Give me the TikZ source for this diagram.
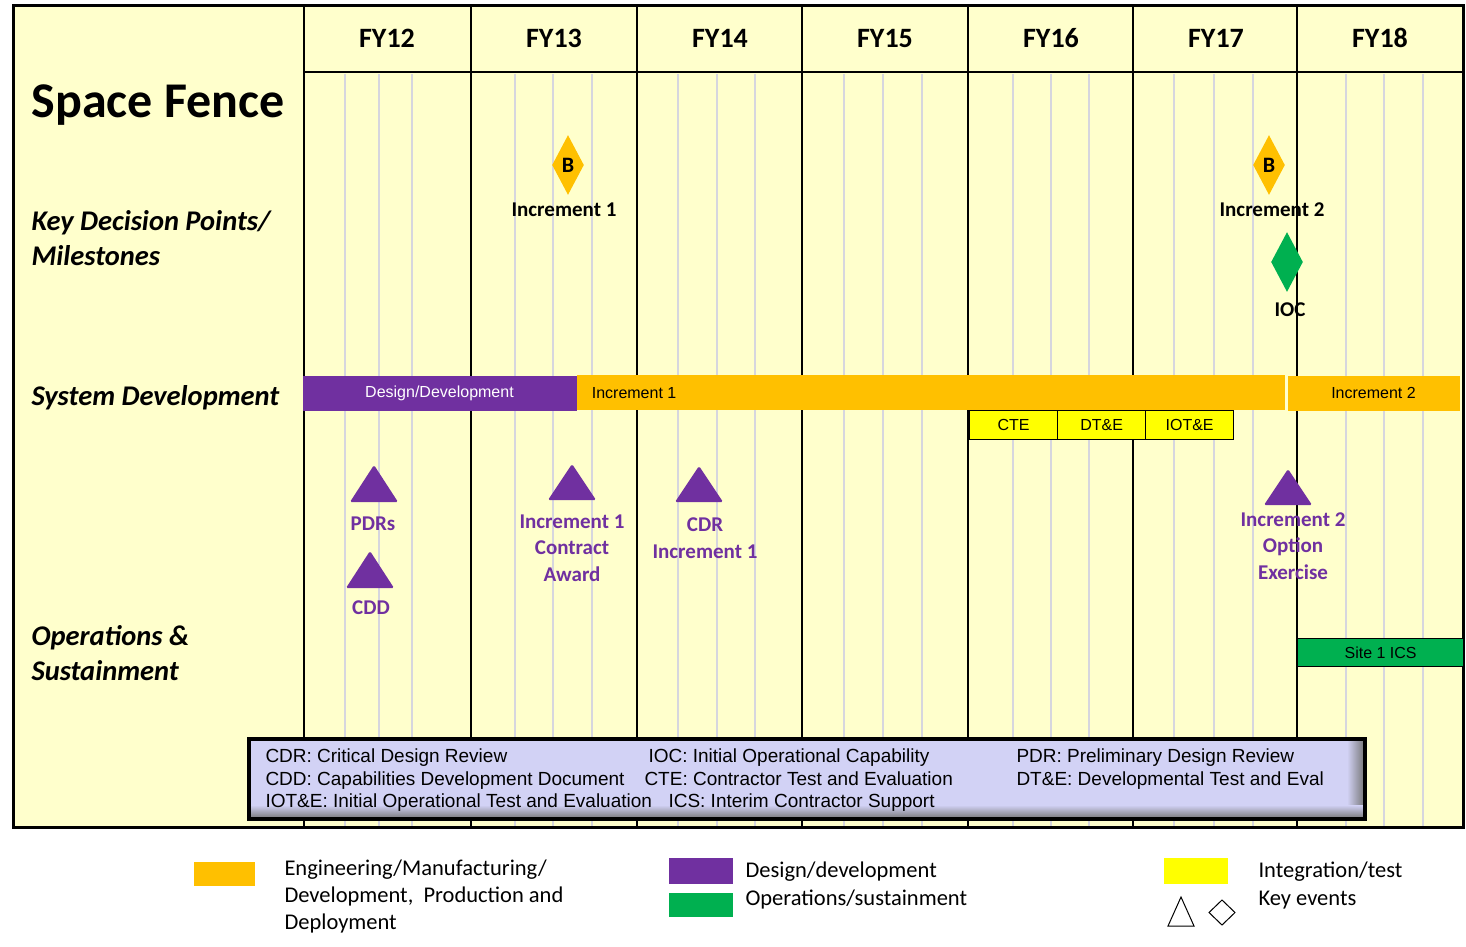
\documentclass[tikz,border=0pt]{standalone}
\usepackage{fontspec}
\setmainfont{Carlito}
\newfontfamily\arialfont{Liberation Sans}
\usetikzlibrary{shapes.geometric}
\definecolor{chartbg}{RGB}{255,255,204}
\definecolor{gridgray}{RGB}{214,214,222}
\definecolor{emdorange}{RGB}{255,192,0}
\definecolor{ddpurple}{RGB}{112,48,160}
\definecolor{opsgreen}{RGB}{0,176,80}
\definecolor{ityellow}{RGB}{255,255,0}
\definecolor{abbrevfill}{RGB}{210,210,245}
\begin{document}
\begin{tikzpicture}[x=1pt, y=-1pt, line width=1pt,
  rowlabel/.style={font=\fontsize{28.5}{32}\selectfont\bfseries\itshape, anchor=base west, inner sep=0},
  yearlabel/.style={font=\fontsize{28}{32}\selectfont\bfseries, inner sep=0},
  bartext/.style={font=\arialfont\fontsize{16}{18}\selectfont},
  testbox/.style={draw=black, line width=1.2pt, fill=ityellow, minimum width=88pt, minimum height=29pt, inner sep=0, anchor=north west, bartext},
  kdiamond/.style={diamond, minimum width=32pt, minimum height=60pt, inner sep=0, font=\fontsize{22}{24}\selectfont\bfseries},
  mslabel/.style={font=\fontsize{21}{26.5}\selectfont\bfseries, align=center, inner sep=0},
  evlabel/.style={mslabel, text=ddpurple},
  abbrev/.style={font=\arialfont\fontsize{19}{21}\selectfont, anchor=base west, inner sep=0},
  legtext/.style={font=\fontsize{22.5}{27}\selectfont, anchor=base west, inner sep=0, align=left}
]
\useasboundingbox (0,0) rectangle (1466,946);
\fill[white] (0,0) rectangle (1466,946);
\fill[chartbg] (13,5) rectangle (1463,827);

% quarter lines
\foreach \gx in {345,379,412, 515,553,592, 678,717,755, 844,883,922,
                 1013,1051,1089, 1174,1214,1253, 1346,1384,1423}
  \draw[gridgray, line width=2pt] (\gx,74) -- (\gx,826);
% fiscal years
\foreach \yx/\yr [count=\i] in {304/12,471/13,637/14,802/15,968/16,1133/17,1297/18}{
  \draw[line width=2pt] (\yx,5) -- (\yx,826);
  \node[yearlabel] (fy\yr) at (\yx+83,38) {FY\yr};
}
\draw[line width=2pt] (304,72) -- (1463,72);
\draw[line width=3pt] (13,5) rectangle (1463,827);

\node[anchor=base west, inner sep=0, font=\fontsize{50}{60}\selectfont\bfseries] (title) at (31,117) {Space Fence};
\node[rowlabel] (rowkdp) at (31,230) {Key Decision Points/};
\node[rowlabel] (rowkdpb) at (31,265) {Milestones};
\node[rowlabel] (rowsys) at (31,405) {System Development};
\node[rowlabel] (rowops) at (31,645) {Operations \&};
\node[rowlabel] (rowopsb) at (31,680) {Sustainment};

% key decision points
\node[kdiamond, fill=emdorange] (msb1) at (568,165) {B};
\node[mslabel] (msb1l) at (564,210) {Increment 1};
\node[kdiamond, fill=emdorange] (msb2) at (1269,165) {B};
\node[mslabel] (msb2l) at (1272,210) {Increment 2};
\node[kdiamond, fill=opsgreen] (ioc) at (1287,262) {};
\node[mslabel] (iocl) at (1290,310) {IOC};

% system development bars
\node[fill=ddpurple, text=white, bartext, minimum width=274pt, minimum height=35pt, inner sep=0, anchor=north west] (desdev) at (302,375) {Design/Development};
\fill[emdorange] (577,375) rectangle (1285,410);
\node[bartext, anchor=west] (inc1) at (588,393) {Increment 1};
\node[fill=emdorange, bartext, minimum width=172pt, minimum height=35pt, inner sep=0, anchor=north west] (inc2) at (1287,375) {Increment 2};
\node[testbox] (cte) at (969,410) {CTE};
\node[testbox] (dte) at (1057,410) {DT\&E};
\node[testbox] (iote) at (1145,410) {IOT\&E};

% events
\fill[ddpurple, rounded corners=1.5pt] (374,465) -- (398,502) -- (350,502) -- cycle;
\node[evlabel] (pdrs) at (373,524) {PDRs};
\fill[ddpurple, rounded corners=1.5pt] (370,551) -- (394,588) -- (346,588) -- cycle;
\node[evlabel] (cdd) at (371,608) {CDD};
\fill[ddpurple, rounded corners=1.5pt] (572,464) -- (596,500) -- (548,500) -- cycle;
\node[evlabel] (award) at (572,548) {Increment 1\\Contract\\Award};
\fill[ddpurple, rounded corners=1.5pt] (699,466) -- (723,502) -- (675,502) -- cycle;
\node[evlabel] (cdr) at (705,538) {CDR\\Increment 1};
\fill[ddpurple, rounded corners=1.5pt] (1288,469) -- (1312,505) -- (1264,505) -- cycle;
\node[evlabel] (option) at (1293,546) {Increment 2\\Option\\Exercise};

% operations
\node[draw=black, line width=1.2pt, fill=opsgreen, bartext, minimum width=166pt, minimum height=28pt, inner sep=0, anchor=north west] (site1) at (1297,638) {Site 1 ICS};

% abbreviations
\fill[abbrevfill] (249,739) rectangle (1365,819);
\shade[left color=abbrevfill, right color=black!55] (1347,739) rectangle (1365,819);
\shade[top color=abbrevfill, bottom color=black!55] (249,805) rectangle (1365,819);
\draw[line width=3.5pt] (249,739) rectangle (1365,819);
\node[abbrev] (abcdr) at (265,762) {CDR: Critical Design Review};
\node[abbrev] (abioc) at (648,762) {IOC: Initial Operational Capability};
\node[abbrev] (abpdr) at (1016,762) {PDR: Preliminary Design Review};
\node[abbrev] (abcdd) at (265,785) {CDD: Capabilities Development Document};
\node[abbrev] (abcte) at (644,785) {CTE: Contractor Test and Evaluation};
\node[abbrev] (abdte) at (1016,785) {DT\&E: Developmental Test and Eval};
\node[abbrev] (abiote) at (265,807) {IOT\&E: Initial Operational Test and Evaluation};
\node[abbrev] (abics) at (668,807) {ICS: Interim Contractor Support};

% legend
\fill[emdorange] (194,862) rectangle (255,886);
\node[legtext] (legemd) at (284,929) {Engineering/Manufacturing/\\Development,\ \ Production and\\Deployment};
\fill[ddpurple] (669,858) rectangle (733,884);
\node[legtext] (legdd) at (745,877) {Design/development};
\fill[opsgreen] (669,893) rectangle (733,917);
\node[legtext] (legops) at (745,905) {Operations/sustainment};
\fill[ityellow] (1164,858) rectangle (1228,884);
\node[legtext] (legit) at (1258,877) {Integration/test};
\draw[line width=1pt] (1181,897) -- (1194,926) -- (1168,926) -- cycle;
\draw[line width=1pt] (1222,900) -- (1235,912.5) -- (1222,925) -- (1209,912.5) -- cycle;
\node[legtext] (legkey) at (1258,905) {Key events};
\end{tikzpicture}
\end{document}
